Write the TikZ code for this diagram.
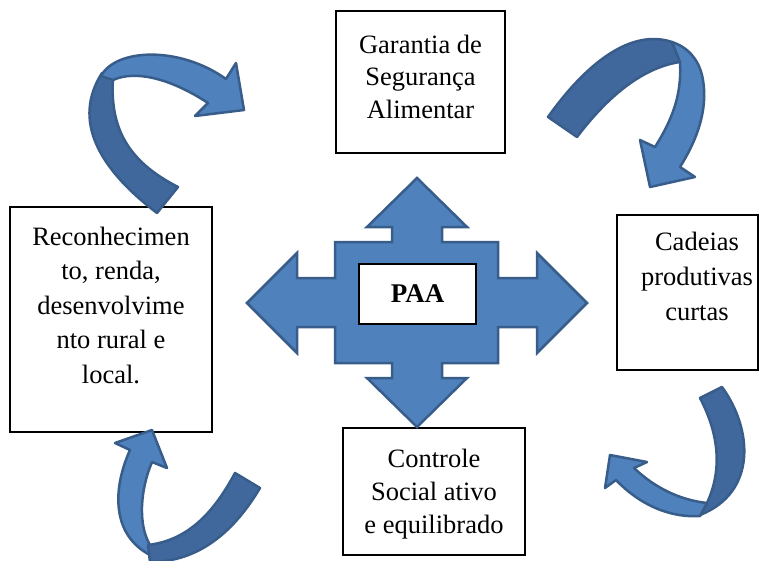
\documentclass[tikz,border=0pt]{standalone}
\usepackage{fontspec}
\setmainfont{Liberation Serif}
\definecolor{blueF}{HTML}{4F81BD}
\definecolor{blueD}{HTML}{41689C}
\definecolor{blueL}{HTML}{385D8A}
\begin{document}
\begin{tikzpicture}[x=1pt,y=-1pt,
  box/.style={draw=black, line width=1.3pt, fill=white, inner sep=0pt},
  txt/.style={align=center, inner sep=0pt, anchor=north},
  lightpart/.style={fill=blueF, draw=blueL, line width=2.5pt, line join=round},
  darkpart/.style={fill=blueD, draw=blueL, line width=2.5pt, line join=round}]
\useasboundingbox (0,0) rectangle (760,560);
% boxes
\node[box, minimum width=169pt, minimum height=142pt] (topbox) at (420.5,82) {};
\node[box, minimum width=202pt, minimum height=225pt] (leftbox) at (111,319.5) {};
\node[box, minimum width=141pt, minimum height=155pt] (rightbox) at (687.5,292.5) {};
\node[box, minimum width=182pt, minimum height=127pt] (bottombox) at (434,491.5) {};
% texts
\node[txt, font=\fontsize{26.5}{32.5}\selectfont] (toptext) at (420.5,30.25)
  {\strut Garantia de\\Segurança\\Alimentar};
\node[txt, font=\fontsize{26.5}{34.5}\selectfont] (lefttext) at (111,220.85)
  {\strut Reconhecimen\\to, renda,\\desenvolvime\\nto rural e\\local.};
\node[txt, font=\fontsize{26.5}{35}\selectfont] (righttext) at (697,225.5)
  {\strut Cadeias\\produtivas\\curtas};
\node[txt, font=\fontsize{26.5}{33}\selectfont] (bottomtext) at (434,443.9)
  {\strut Controle\\Social ativo\\e equilibrado};
% central four-way arrow
\path[lightpart, line join=miter]
  (417,178) -- (467,227) -- (442,227) -- (442,242) -- (498,242) -- (498,278)
  -- (537,278) -- (537,253) -- (587,303) -- (537,353) -- (537,327) -- (498,327)
  -- (498,363) -- (442,363) -- (442,378) -- (467,378) -- (417,427) -- (367,378)
  -- (392,378) -- (392,363) -- (335,363) -- (335,327) -- (297,327) -- (297,353)
  -- (247,303) -- (297,253) -- (297,278) -- (335,278) -- (335,242) -- (392,242)
  -- (392,227) -- (367,227) -- cycle;
\node[box, minimum width=117pt, minimum height=60pt,
  font=\bfseries\fontsize{27}{30}\selectfont] (paa) at (417.5,294) {PAA};
% top-left curved arrow
\path[darkpart] (157,213) -- (178,187) .. controls (125,160) and (110,125) .. (113,78)
  -- (102,73) .. controls (72,120) and (98,168) .. (157,213) -- cycle;
\path[lightpart] (101,76) .. controls (116,48) and (180,46) .. (226,79)
  -- (236,63) -- (244,110) -- (195,116) -- (208,103)
  .. controls (170,78) and (135,70) .. (113,80) -- cycle;
% top-right curved arrow
\path[darkpart] (548,117) .. controls (585,65) and (630,28) .. (672,42)
  -- (680,62) .. controls (640,68) and (605,100) .. (577,137) -- cycle;
\path[lightpart] (672,42) .. controls (690,48) and (700,62) .. (703,80)
  .. controls (708,110) and (697,140) .. (680,167) -- (695,177) -- (650,187)
  -- (640,140) -- (655,147) .. controls (672,120) and (682,95) .. (680,62) -- cycle;
% bottom-right curved arrow
\path[darkpart] (700,398) -- (722,387) .. controls (752,428) and (758,492) .. (700,515)
  -- (707,503) .. controls (720,475) and (722,440) .. (700,398) -- cycle;
\path[lightpart] (707,503) .. controls (680,500) and (655,488) .. (634,468)
  -- (647,462) -- (610,455) -- (605,488) -- (616,480)
  .. controls (640,505) and (670,518) .. (700,516) -- cycle;
% bottom-left curved arrow
\path[lightpart] (130,450) .. controls (112,490) and (112,535) .. (150,555)
  -- (150,545) .. controls (138,525) and (140,490) .. (152,462)
  -- (167,468) -- (152,430) -- (115,443) -- cycle;
\path[darkpart] (148,545) .. controls (190,540) and (215,510) .. (235,473)
  -- (260,488) .. controls (235,530) and (200,562) .. (150,562) -- cycle;
\end{tikzpicture}
\end{document}
